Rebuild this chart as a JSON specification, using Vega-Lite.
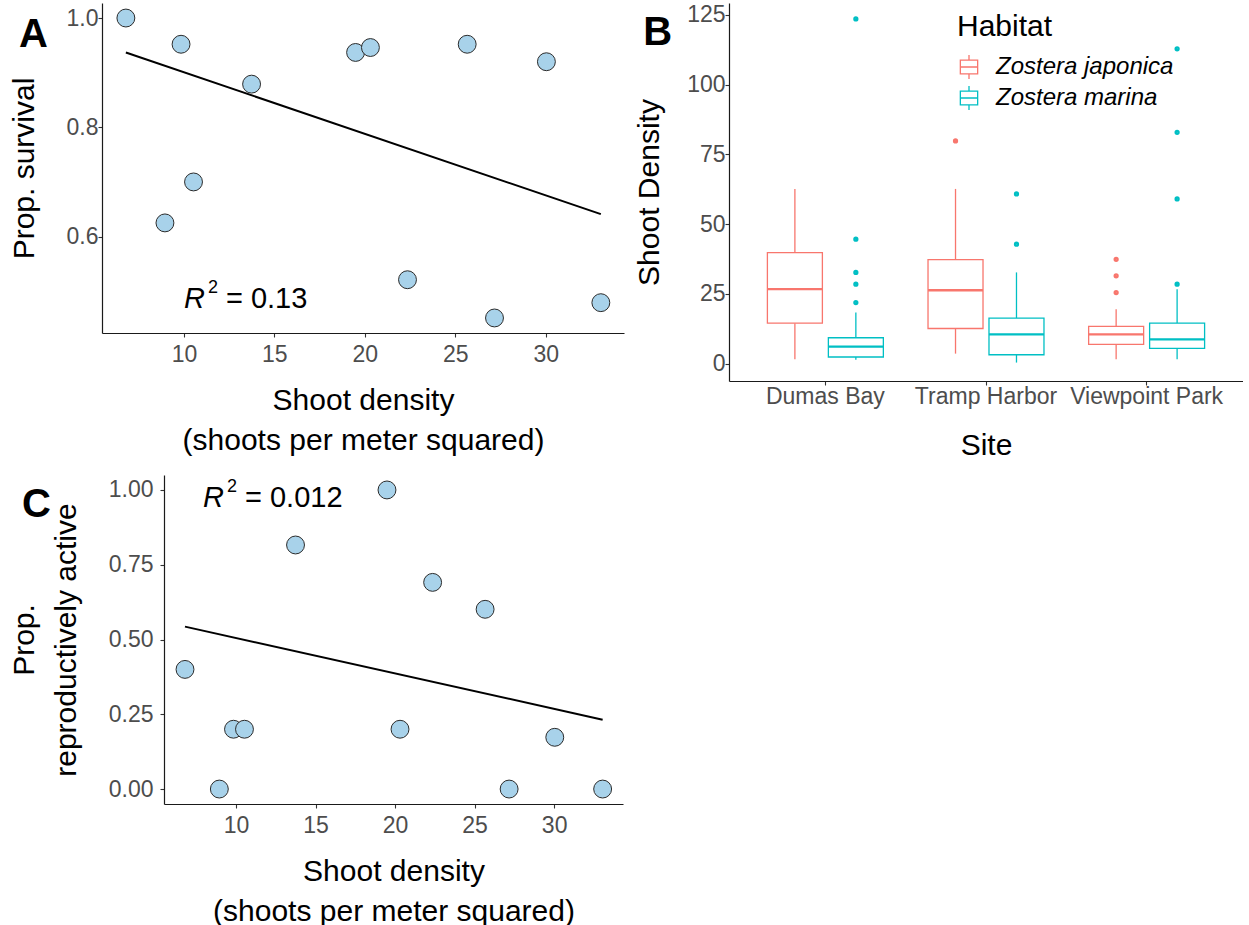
{
  "$schema": "https://vega.github.io/schema/vega-lite/v6.json",
  "background": "white",
  "padding": {"left": 8, "top": 3, "right": 0, "bottom": 0},
  "datasets": {
    "sites": [
      {"density": 6.79, "survival": 1.0, "repro": 0.40},
      {"density": 8.95, "survival": 0.625, "repro": 0.0},
      {"density": 9.84, "survival": 0.952, "repro": 0.20},
      {"density": 10.53, "survival": 0.700, "repro": 0.20},
      {"density": 13.74, "survival": 0.879, "repro": 0.816},
      {"density": 19.49, "survival": 0.937, "repro": 1.0},
      {"density": 20.31, "survival": 0.946, "repro": 0.20},
      {"density": 22.36, "survival": 0.521, "repro": 0.691},
      {"density": 25.66, "survival": 0.952, "repro": 0.601},
      {"density": 27.17, "survival": 0.451, "repro": 0.0},
      {"density": 30.04, "survival": 0.920, "repro": 0.173},
      {"density": 33.05, "survival": 0.479, "repro": 0.0}
    ],
    "fitA": [
      {"density": 6.79, "fit": 0.937},
      {"density": 33.05, "fit": 0.641}
    ],
    "fitC": [
      {"density": 6.79, "fit": 0.543},
      {"density": 33.05, "fit": 0.232}
    ],
    "annA": [{"density": 10.0, "y": 0.469, "r": "R", "two": "2", "rest": "= 0.13", "letter": "A", "lx": 0.88, "ly": 0.947}],
    "annC": [{"density": 7.92, "y": 0.943, "r": "R", "two": "2", "rest": "= 0.012", "letter": "C", "lx": -3.46, "ly": 0.9095}],
    "annB": [{"letter": "B", "lx": -0.167, "ly": 114.2}],
    "empty": [],
    "boxes": [
      {"site": "Dumas Bay", "habitat": "Zostera japonica", "lo": 1.6, "q1": 14.5, "med": 26.7, "q3": 39.8, "hi": 62.6},
      {"site": "Dumas Bay", "habitat": "Zostera marina", "lo": 1.4, "q1": 2.4, "med": 6.1, "q3": 9.3, "hi": 18.3},
      {"site": "Tramp Harbor", "habitat": "Zostera japonica", "lo": 3.6, "q1": 12.6, "med": 26.3, "q3": 37.3, "hi": 62.6},
      {"site": "Tramp Harbor", "habitat": "Zostera marina", "lo": 0.4, "q1": 3.2, "med": 10.5, "q3": 16.3, "hi": 32.7},
      {"site": "Viewpoint Park", "habitat": "Zostera japonica", "lo": 1.6, "q1": 6.9, "med": 10.5, "q3": 13.4, "hi": 19.5},
      {"site": "Viewpoint Park", "habitat": "Zostera marina", "lo": 1.6, "q1": 5.5, "med": 8.7, "q3": 14.5, "hi": 26.7}
    ],
    "outliers": [
      {"site": "Dumas Bay", "habitat": "Zostera marina", "value": 21.9},
      {"site": "Dumas Bay", "habitat": "Zostera marina", "value": 28.5},
      {"site": "Dumas Bay", "habitat": "Zostera marina", "value": 32.7},
      {"site": "Dumas Bay", "habitat": "Zostera marina", "value": 44.6},
      {"site": "Dumas Bay", "habitat": "Zostera marina", "value": 123.5},
      {"site": "Tramp Harbor", "habitat": "Zostera japonica", "value": 79.8},
      {"site": "Tramp Harbor", "habitat": "Zostera marina", "value": 42.8},
      {"site": "Tramp Harbor", "habitat": "Zostera marina", "value": 60.8},
      {"site": "Viewpoint Park", "habitat": "Zostera japonica", "value": 25.5},
      {"site": "Viewpoint Park", "habitat": "Zostera japonica", "value": 31.5},
      {"site": "Viewpoint Park", "habitat": "Zostera japonica", "value": 37.4},
      {"site": "Viewpoint Park", "habitat": "Zostera marina", "value": 28.5},
      {"site": "Viewpoint Park", "habitat": "Zostera marina", "value": 59.0},
      {"site": "Viewpoint Park", "habitat": "Zostera marina", "value": 82.9},
      {"site": "Viewpoint Park", "habitat": "Zostera marina", "value": 112.8}
    ]
  },
  "spacing": 15,
  "vconcat": [
    {
      "spacing": 0,
      "hconcat": [
        {"width": 1, "height": 1, "data": {"name": "empty"}, "mark": "point"},
        {
          "spacing": 10,
          "hconcat": [
            {
              "width": 522,
              "height": 330,
              "layer": [
                {
                  "data": {"name": "fitA"},
                  "mark": {"type": "line", "color": "black", "strokeWidth": 2},
                  "encoding": {
                    "x": {"field": "density", "type": "quantitative", "scale": {"domain": [5.47, 34.33], "nice": false, "zero": false},
                      "axis": {"title": ["Shoot density", "(shoots per meter squared)"], "values": [10, 15, 20, 25, 30], "labelPadding": 6, "titlePadding": 19, "titleLineHeight": 40}},
                    "y": {"field": "fit", "type": "quantitative", "scale": {"domain": [0.4235, 1.0275], "nice": false, "zero": false},
                      "axis": {"title": "Prop. survival", "values": [0.6, 0.8, 1.0], "format": ".1f", "labelPadding": 0, "titlePadding": 27}}
                  }
                },
                {
                  "data": {"name": "sites"},
                  "mark": {"type": "circle", "fill": "#a8d2ea", "stroke": "#2b2b2b", "strokeWidth": 1, "size": 320, "opacity": 1},
                  "encoding": {
                    "x": {"field": "density", "type": "quantitative"},
                    "y": {"field": "survival", "type": "quantitative"}
                  }
                },
                {
                  "data": {"name": "annA"},
                  "mark": {"type": "text", "align": "left", "baseline": "alphabetic", "fontSize": 29, "fontStyle": "italic", "font": "Liberation Sans", "color": "black"},
                  "encoding": {"x": {"field": "density", "type": "quantitative"}, "y": {"field": "y", "type": "quantitative"}, "text": {"field": "r"}}
                },
                {
                  "data": {"name": "annA"},
                  "mark": {"type": "text", "align": "left", "baseline": "alphabetic", "fontSize": 18, "dx": 24, "dy": -15, "font": "Liberation Sans", "color": "black"},
                  "encoding": {"x": {"field": "density", "type": "quantitative"}, "y": {"field": "y", "type": "quantitative"}, "text": {"field": "two"}}
                },
                {
                  "data": {"name": "annA"},
                  "mark": {"type": "text", "align": "left", "baseline": "alphabetic", "fontSize": 29, "dx": 42, "font": "Liberation Sans", "color": "black"},
                  "encoding": {"x": {"field": "density", "type": "quantitative"}, "y": {"field": "y", "type": "quantitative"}, "text": {"field": "rest"}}
                },
                {
                  "data": {"name": "annA"},
                  "mark": {"type": "text", "align": "left", "baseline": "alphabetic", "fontSize": 40, "fontWeight": "bold", "font": "Liberation Sans", "color": "black"},
                  "encoding": {"x": {"field": "lx", "type": "quantitative"}, "y": {"field": "ly", "type": "quantitative"}, "text": {"field": "letter"}}
                }
              ]
            },
            {
              "width": 514,
              "height": 378,
              "resolve": {"scale": {"x": "independent"}},
              "layer": [
                {
                  "layer": [
                    {
                      "data": {"name": "boxes"},
                      "mark": {"type": "rule", "strokeWidth": 1.3},
                      "encoding": {
                        "x": {"field": "site", "type": "nominal", "scale": {"paddingInner": 0.25, "paddingOuter": 0.225},
                          "axis": {"title": "Site", "labelAngle": 0, "labelOverlap": false, "labelPadding": 0, "titlePadding": 22}},
                        "xOffset": {"field": "habitat", "type": "nominal", "scale": {"domain": ["Zostera japonica", "Zostera marina"], "paddingInner": 0.098, "paddingOuter": 0.037}},
                        "y": {"field": "lo", "type": "quantitative", "scale": {"domain": [-6.2, 129.2], "nice": false, "zero": false},
                          "axis": {"title": "Shoot Density", "values": [0, 25, 50, 75, 100, 125], "labelPadding": 0, "titlePadding": 22}},
                        "y2": {"field": "q1"},
                        "stroke": {"field": "habitat", "type": "nominal", "scale": {"domain": ["Zostera japonica", "Zostera marina"], "range": ["#F8766D", "#00BFC4"]},
                          "legend": {"orient": "none", "legendX": 949, "legendY": 9, "title": "Habitat", "titleFontSize": 30, "titleFont": "Liberation Sans", "titleFontWeight": "normal", "titleColor": "black", "titlePadding": 13,
                            "labelFontSize": 24, "labelFont": "Liberation Sans", "labelFontStyle": "italic", "labelColor": "black", "labelOffset": 15, "labelLimit": 400, "rowPadding": 1,
                            "symbolType": "M-1,-0.8H1V0.8H-1Z M-1,0H1 M0,-0.8V-1.4 M0,0.8V1.4", "symbolSize": 300, "symbolStrokeWidth": 1.3, "symbolFillColor": "white"}}
                      }
                    },
                    {
                      "data": {"name": "boxes"},
                      "mark": {"type": "rule", "strokeWidth": 1.3},
                      "encoding": {
                        "x": {"field": "site", "type": "nominal"},
                        "xOffset": {"field": "habitat", "type": "nominal"},
                        "y": {"field": "q3", "type": "quantitative"},
                        "y2": {"field": "hi"},
                        "stroke": {"field": "habitat", "type": "nominal"}
                      }
                    },
                    {
                      "data": {"name": "boxes"},
                      "mark": {"type": "bar", "fill": "white", "strokeWidth": 1.3},
                      "encoding": {
                        "x": {"field": "site", "type": "nominal"},
                        "xOffset": {"field": "habitat", "type": "nominal"},
                        "y": {"field": "q1", "type": "quantitative"},
                        "y2": {"field": "q3"},
                        "stroke": {"field": "habitat", "type": "nominal"}
                      }
                    },
                    {
                      "data": {"name": "boxes"},
                      "mark": {"type": "bar", "fill": "white", "strokeWidth": 2.4},
                      "encoding": {
                        "x": {"field": "site", "type": "nominal"},
                        "xOffset": {"field": "habitat", "type": "nominal"},
                        "y": {"field": "med", "type": "quantitative"},
                        "y2": {"field": "med"},
                        "stroke": {"field": "habitat", "type": "nominal"}
                      }
                    },
                    {
                      "data": {"name": "outliers"},
                      "mark": {"type": "circle", "size": 6, "strokeWidth": 2.8, "fillOpacity": 0, "strokeOpacity": 1, "opacity": 1},
                      "encoding": {
                        "x": {"field": "site", "type": "nominal"},
                        "xOffset": {"field": "habitat", "type": "nominal"},
                        "y": {"field": "value", "type": "quantitative"},
                        "stroke": {"field": "habitat", "type": "nominal"}
                      }
                    }
                  ]
                },
                {
                  "data": {"name": "annB"},
                  "mark": {"type": "text", "align": "left", "baseline": "alphabetic", "fontSize": 40, "fontWeight": "bold", "font": "Liberation Sans", "color": "black"},
                  "encoding": {
                    "x": {"field": "lx", "type": "quantitative", "scale": {"domain": [0, 1], "nice": false, "zero": false}, "axis": null},
                    "y": {"field": "ly", "type": "quantitative"},
                    "text": {"field": "letter"}
                  }
                }
              ]
            }
          ]
        }
      ]
    },
    {
      "spacing": 0,
      "hconcat": [
        {"width": 1, "height": 1, "data": {"name": "empty"}, "mark": "point"},
        {
          "width": 459,
          "height": 329,
          "layer": [
            {
              "data": {"name": "fitC"},
              "mark": {"type": "line", "color": "black", "strokeWidth": 2},
              "encoding": {
                "x": {"field": "density", "type": "quantitative", "scale": {"domain": [5.47, 34.33], "nice": false, "zero": false},
                  "axis": {"title": ["Shoot density", "(shoots per meter squared)"], "values": [10, 15, 20, 25, 30], "labelPadding": 6, "titlePadding": 19, "titleLineHeight": 40}},
                "y": {"field": "fit", "type": "quantitative", "scale": {"domain": [-0.05, 1.05], "nice": false, "zero": false},
                  "axis": {"title": ["Prop.", "reproductively active"], "values": [0, 0.25, 0.5, 0.75, 1.0], "format": ".2f", "labelPadding": 7, "titlePadding": 27, "titleLineHeight": 42}}
              }
            },
            {
              "data": {"name": "sites"},
              "mark": {"type": "circle", "fill": "#a8d2ea", "stroke": "#2b2b2b", "strokeWidth": 1, "size": 320, "opacity": 1},
              "encoding": {
                "x": {"field": "density", "type": "quantitative"},
                "y": {"field": "repro", "type": "quantitative"}
              }
            },
            {
              "data": {"name": "annC"},
              "mark": {"type": "text", "align": "left", "baseline": "alphabetic", "fontSize": 29, "fontStyle": "italic", "font": "Liberation Sans", "color": "black"},
              "encoding": {"x": {"field": "density", "type": "quantitative"}, "y": {"field": "y", "type": "quantitative"}, "text": {"field": "r"}}
            },
            {
              "data": {"name": "annC"},
              "mark": {"type": "text", "align": "left", "baseline": "alphabetic", "fontSize": 18, "dx": 24, "dy": -15, "font": "Liberation Sans", "color": "black"},
              "encoding": {"x": {"field": "density", "type": "quantitative"}, "y": {"field": "y", "type": "quantitative"}, "text": {"field": "two"}}
            },
            {
              "data": {"name": "annC"},
              "mark": {"type": "text", "align": "left", "baseline": "alphabetic", "fontSize": 29, "dx": 42, "font": "Liberation Sans", "color": "black"},
              "encoding": {"x": {"field": "density", "type": "quantitative"}, "y": {"field": "y", "type": "quantitative"}, "text": {"field": "rest"}}
            },
            {
              "data": {"name": "annC"},
              "mark": {"type": "text", "align": "left", "baseline": "alphabetic", "fontSize": 40, "fontWeight": "bold", "font": "Liberation Sans", "color": "black"},
              "encoding": {"x": {"field": "lx", "type": "quantitative"}, "y": {"field": "ly", "type": "quantitative"}, "text": {"field": "letter"}}
            }
          ]
        }
      ]
    }
  ],
  "config": {
    "view": {"stroke": null},
    "font": "Liberation Sans",
    "axis": {
      "grid": false,
      "domainColor": "#1a1a1a",
      "domainWidth": 1.2,
      "tickColor": "#333333",
      "tickSize": 4,
      "tickWidth": 1.1,
      "labelFont": "Liberation Sans",
      "labelFontSize": 23,
      "labelColor": "#4d4d4d",
      "labelPadding": 2,
      "titleFont": "Liberation Sans",
      "titleFontSize": 30,
      "titleFontWeight": "normal",
      "titleColor": "black"
    }
  }
}
